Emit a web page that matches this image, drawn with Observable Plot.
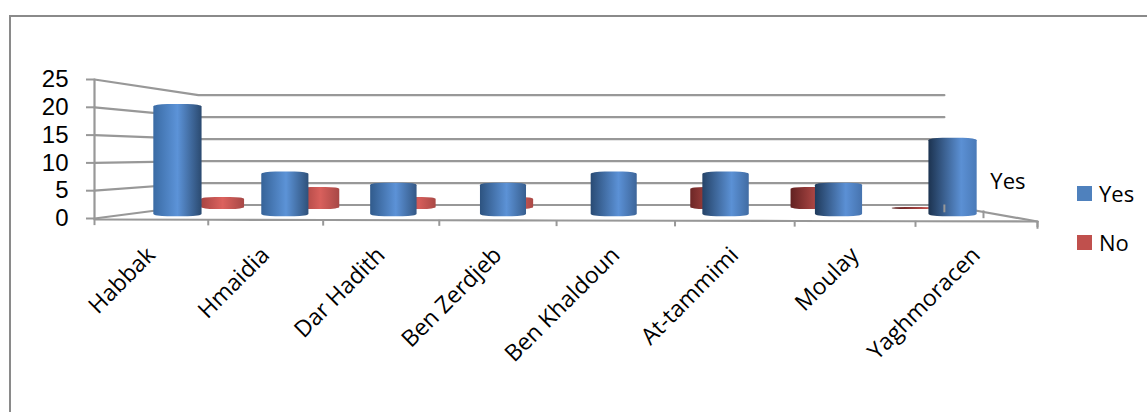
<!DOCTYPE html>
<html>
<head>
<meta charset="utf-8">
<script src="https://cdn.jsdelivr.net/npm/d3@7"></script>
<script src="https://cdn.jsdelivr.net/npm/@observablehq/plot@0.6"></script>
<style>
  html, body { margin: 0; padding: 0; background: #fff; }
  #page { position: relative; width: 1147px; height: 412px; overflow: hidden; font-family: "Open Sans", sans-serif; }
  #border { position: absolute; left: 9px; top: 15px; width: 1200px; height: 500px; border: 2px solid #8a8a8a; box-sizing: border-box; }
  #chart { position: absolute; left: 0; top: 0; }
  .key { position: absolute; left: 1077px; display: flex; align-items: center; font-size: 22px; color: #000; line-height: 15px; height: 15px; }
  .key i { display: block; width: 15px; height: 15px; margin-right: 7px; }
</style>
</head>
<body>
<div id="page">
  <div id="border"></div>
  <div id="chart"></div>
  <div class="key" style="top:186px"><i style="background:#4f81bd"></i>Yes</div>
  <div class="key" style="top:235px"><i style="background:#c0504d"></i>No</div>
</div>
<script>
// Survey answers per school
const schools = ["Habbak", "Hmaidia", "Dar Hadith", "Ben Zerdjeb", "Ben Khaldoun", "At-tammimi", "Moulay", "Yaghmoracen"];
const yes = [20, 8, 6, 6, 8, 8, 6, 14];
const no = [2, 4, 2, 2, 0, 4, 4, 0];
const yTicks = [0, 5, 10, 15, 20, 25];

// The box is faked in data units: x runs 0..8 along the front edge, y is the value axis.
const GRID = "#989898";
const backLeft = 0.882, backRight = 7.21;           // back wall ends on the x axis
const wallY = v => 2.43 + v * 0.79;                 // a value as seen on the back wall
const warp = s => s + 0.005 * s * (s - 8);          // slots widen slightly towards the viewer's right
const frontEdge = s => -0.18 - 0.045 * s;           // the front floor edge tilts a little

// Each series sits on its own row in depth.
const rowFor = depth => {
  const left = depth * backLeft, right = 8 - depth * (8 - backRight);
  return i => left + (right - left) / 8 * warp(i + 0.5);
};
const slotWidth = depth => (8 - depth * (backLeft + 8 - backRight)) / 8;
const halfFor = depth => i => 0.2077 * slotWidth(depth) * (1 + 0.004 * (i - 3.5) ** 2);
const rows = {
  yes: {center: rowFor(0.29), half: halfFor(0.29), base: 0.3, stretch: 1.01},
  no: {center: rowFor(0.78), half: halfFor(0.78), base: 1.8, stretch: 0.9}
};

const cylinders = (values, row, prefix, options) =>
  values.map((v, i) => Plot.rect([v], {
    x1: () => row.center(i) - row.half(i),
    x2: () => row.center(i) + row.half(i),
    y1: () => row.base,
    y2: d => row.base + d * row.stretch,
    fill: `url(#${prefix}-${i})`,
    ...options
  }));

// Horizontal shading of the cylinders; the highlight drifts right along the axis.
const shades = {
  yes: {left: ["#3a6ba4", "#1c3350"], peak: ["#5c93d8", "#5b90d4"], right: ["#2b4a70", "#4a7ab8"], at: [0.5, 0.68]},
  no: {left: ["#a84442", "#561b1b"], peak: ["#dc625e", "#c2524f"], right: ["#a64846", "#b04a47"], at: [0.5, 0.85]}
};
const gradients = () => {
  const defs = d3.create("svg:defs");
  for (const [prefix, shade] of Object.entries(shades)) {
    schools.forEach((_, i) => {
      const t = i / (schools.length - 1);
      const g = defs.append("linearGradient").attr("id", `${prefix}-${i}`);
      g.append("stop").attr("offset", 0).attr("stop-color", d3.interpolateRgb(...shade.left)(t));
      g.append("stop").attr("offset", d3.interpolate(...shade.at)(t)).attr("stop-color", d3.interpolateRgb(...shade.peak)(t));
      g.append("stop").attr("offset", 1).attr("stop-color", d3.interpolateRgb(...shade.right)(t));
    });
  }
  return defs.node();
};

// Side wall plus back wall, one polyline for each y tick
const wallLines = yTicks.flatMap(v => [
  {v, x: 0, y: v},
  {v, x: backLeft, y: wallY(v)},
  {v, x: backRight, y: wallY(v)}
]);
const depthTicks = [1, 0.58, 0].map(d => {
  const x = 8 - d * (8 - backRight);
  const top = d === 0 ? frontEdge(8) : 2.43 * d - 0.1 * (1 - d);
  return {x, top, bottom: top - 1.4};
});
const slotTicks = d3.range(0, 9);

const chart = Plot.plot({
  width: 1147,
  height: 412,
  marginTop: 79,
  marginBottom: 194,
  marginLeft: 94,
  marginRight: 110,
  x: {domain: [0, 8], axis: null},
  y: {domain: [0, 25], axis: null},
  style: {fontFamily: "'Open Sans', sans-serif", background: "transparent", overflow: "visible"},
  marks: [
    gradients,
    // box frame
    Plot.line(wallLines, {x: "x", y: "y", z: "v", stroke: GRID, strokeWidth: 2.2}),
    Plot.line([[backRight, wallY(0)], [8, frontEdge(8)]], {stroke: GRID, strokeWidth: 2.2}),
    Plot.line([[0, 0], [0, 25]], {stroke: GRID, strokeWidth: 2.2}),
    Plot.line(slotTicks, {x: warp, y: frontEdge, stroke: GRID, strokeWidth: 2.2}),
    Plot.ruleX(slotTicks, {x: warp, y1: frontEdge, y2: s => frontEdge(s) - 1.1, stroke: GRID, strokeWidth: 2}),
    // bars, the back row first
    ...cylinders(no, rows.no, "no", {rx: 14, ry: 2, insetTop: -1, insetBottom: -1}),
    ...cylinders(yes, rows.yes, "yes", {rx: 14, ry: 2.5}),
    Plot.ruleX(depthTicks, {x: "x", y1: "top", y2: "bottom", stroke: GRID, strokeWidth: 2}),
    // value axis and labels
    Plot.axisY(yTicks, {anchor: "left", tickSize: 8, tickPadding: 18, stroke: GRID, strokeWidth: 2, fill: "#000", fontSize: 24, fontFamily: "'Liberation Sans', sans-serif", label: null, fontVariant: "normal"}),
    Plot.text(schools, {
      x: (d, i) => warp(i + 0.5),
      y: -5.9,
      text: d => d,
      rotate: -45,
      textAnchor: "end",
      fontSize: 23,
      fill: "#000"
    }),
    Plot.text(["Yes"], {x: 7.6, y: 6.65, text: d => d, textAnchor: "start", fontSize: 22, fill: "#000"})
  ]
});
document.getElementById("chart").append(chart);
</script>
</body>
</html>
